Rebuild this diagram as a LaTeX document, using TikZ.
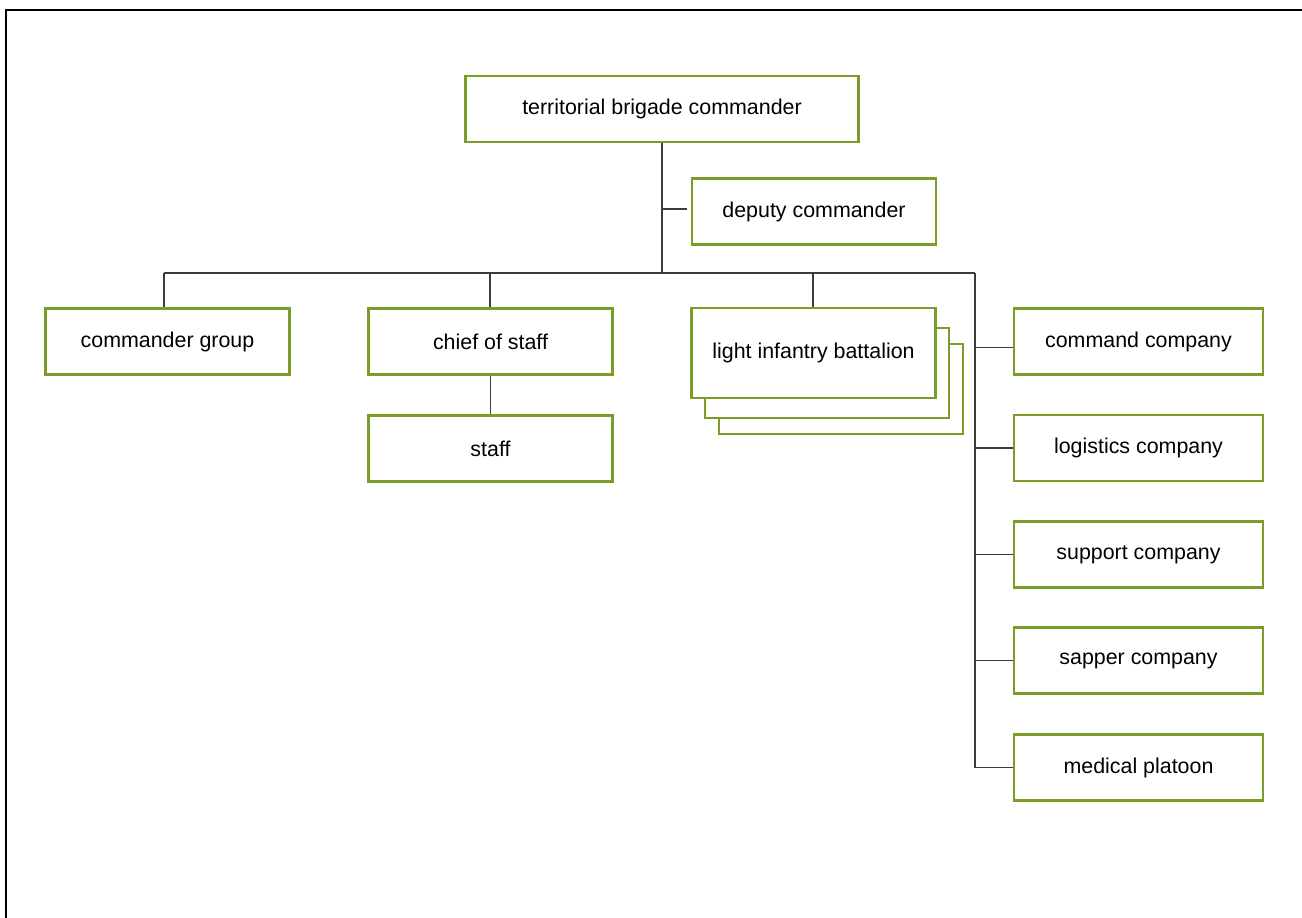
\documentclass[tikz,border=0pt]{standalone}
\usepackage{fontspec}
\setmainfont{Liberation Sans}
\definecolor{boxgreen}{RGB}{122,156,40}
\definecolor{linegray}{RGB}{60,60,60}
\tikzset{
  unit/.style={draw=boxgreen, line width=2.8pt, fill=white, inner sep=0pt,
    minimum height=66pt, font=\fontsize{21.4}{25}\selectfont, text=black},
  wide/.style={unit, minimum width=393pt},
  std/.style={unit, minimum width=244pt},
  rstd/.style={unit, minimum width=249pt},
  conn/.style={draw=linegray, line width=1.5pt},
}
\begin{document}
\begin{tikzpicture}[x=1pt,y=-1pt]
\useasboundingbox (0,0) rectangle (1302,918);
% frame (left and top edges)
\draw[line width=2.5pt, black] (6,918) -- (6,10) -- (1302,10);

% nodes
\node[wide] (tbc) at (662,109) {territorial brigade commander};
\node[std] (dep) at (814,211.5) {deputy commander};
\node[std] (cg) at (167.5,341.5) {commander group};
\node[std] (cos) at (490.5,341.5) {chief of staff};
\node[std] (staff) at (490.5,448.5) {staff};
% stacked battalions
\node[std, minimum height=90pt] (lib3) at (841,389) {};
\node[std, minimum height=90pt] (lib2) at (827,373) {};
\node[std, minimum height=90pt] (lib) at (813.5,353) {light infantry battalion};
% right column
\node[rstd] (cc) at (1138.5,341.5) {command company};
\node[rstd] (lc) at (1138.5,448) {logistics company};
\node[rstd] (sc) at (1138.5,554.5) {support company};
\node[rstd] (sp) at (1138.5,660.5) {sapper company};
\node[rstd] (mp) at (1138.5,767.5) {medical platoon};

% helper coordinates
\coordinate (trunk) at (662,273);
\coordinate (busL) at (164,273);
\coordinate (busR) at (975,273);
\coordinate (depj) at (662,209);
\coordinate (cgtop) at (164,307);
\coordinate (libj) at (813,273);
\coordinate (cosj) at (490,273);

% connectors
\draw[conn] (tbc.south) -- (trunk);
\draw[conn, shorten >=4pt] (depj) -- (depj -| dep.west);
\draw[conn] (busL) -- (busR);
\draw[conn] (busL) -- (cgtop);
\draw[conn] (cosj) -- (cosj |- cos.north);
\draw[conn] (libj) -- (libj |- lib.north);
\draw[conn] (cos.south) -- (staff.north);
\draw[conn] (busR) -- (busR |- mp.west);
\draw[conn] (busR |- cc.west) ++(0,6) -- ([yshift=-6pt]cc.west);
\draw[conn] (busR |- lc.west) -- (lc.west);
\draw[conn] (busR |- sc.west) -- (sc.west);
\draw[conn] (busR |- sp.west) -- (sp.west);
\draw[conn] (busR |- mp.west) -- (mp.west);
\end{tikzpicture}
\end{document}
